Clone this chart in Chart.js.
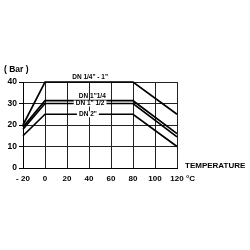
<!DOCTYPE html>
<html>
<head>
<meta charset="UTF-8">
<script src="https://cdn.jsdelivr.net/npm/chart.js"></script>
<style>
  html, body { margin: 0; padding: 0; background: #fff; }
  #wrap { width: 250px; height: 250px; }
</style>
</head>
<body>
<div id="wrap"><canvas id="chart" width="250" height="250"></canvas></div>
<script>
// temperature points (°C)
const temps = [-20, 0, 80, 120];
// pressure (bar) for each size
const dnQuarterToOne = [20, 40, 40, 25];
const dnOneQuarter = [19, 31.3, 31.3, 16];
const dnOneHalf = [18, 30, 30, 14.5];
const dnTwo = [15, 25, 25, 10];

const seriesNames = ['DN 1/4" - 1"', 'DN 1"1/4', 'DN 1" 1/2', 'DN 2"'];
const seriesValues = [dnQuarterToOne, dnOneQuarter, dnOneHalf, dnTwo];
// where the size label sits (x in °C, y in bar) and whether it blanks the line
const labelX = [41, 43, 41, 39];
const labelY = [42.3, 33.5, 30, 25];
const labelBox = [false, false, true, true];

const yTickLabels = [0, 10, 15, 20, 25, 30, 40];
const xTickLabels = {'-20': '- 20'};

const FONT = '"Liberation Sans", Arial, sans-serif';

const datasets = seriesValues.map((vals, i) => ({
    label: seriesNames[i],
    data: temps.map((t, j) => ({ x: t, y: vals[j] })),
    borderColor: '#000',
    borderWidth: 1.7,
    pointRadius: 0,
    fill: false,
    tension: 0,
    clip: false
}));

const textPlugin = {
    id: 'texts',
    afterDatasetsDraw(chart) {
        const ctx = chart.ctx;
        const xs = chart.scales.x, ys = chart.scales.y;
        const area = chart.chartArea;
        ctx.save();
        ctx.fillStyle = '#000';
        // line labels
        ctx.font = 'bold 6.5px ' + FONT;
        ctx.textAlign = 'center';
        ctx.textBaseline = 'middle';
        seriesNames.forEach((name, i) => {
            const px = xs.getPixelForValue(labelX[i]);
            const py = ys.getPixelForValue(labelY[i]);
            if (labelBox[i]) {
                const w = ctx.measureText(name).width + 4;
                ctx.fillStyle = '#fff';
                ctx.fillRect(px - w / 2, py - 3, w, 6);
                ctx.fillStyle = '#000';
            }
            ctx.fillText(name, px, py);
        });
        // axis captions
        ctx.font = 'bold 8.5px ' + FONT;
        ctx.textAlign = 'left';
        ctx.fillText('( Bar )', 4, area.top - 12);
        ctx.font = 'bold 8px ' + FONT;
        ctx.fillText('TEMPERATURE', area.right + 8, area.bottom - 2);
        ctx.fillText('°C', area.right + 9, area.bottom + 11);
        ctx.restore();
    }
};

new Chart(document.getElementById('chart'), {
    type: 'line',
    data: { datasets: datasets },
    options: {
        responsive: false,
        animation: false,
        layout: { padding: { top: 82, right: 73, bottom: 67, left: 0 } },
        plugins: {
            legend: { display: false },
            tooltip: { enabled: false }
        },
        scales: {
            x: {
                type: 'linear',
                min: -20,
                max: 120,
                afterFit: s => { s.height = 15; },
                border: { color: '#000', width: 1 },
                grid: { color: '#222', lineWidth: 1, drawTicks: false },
                ticks: {
                    stepSize: 20,
                    padding: 6,
                    color: '#000',
                    font: { family: FONT, size: 8, weight: 'bold' },
                    callback: v => xTickLabels[v] || String(v)
                }
            },
            y: {
                min: 0,
                max: 40,
                afterFit: s => { s.width = 23; },
                border: { color: '#000', width: 1 },
                grid: { color: '#222', lineWidth: 1, tickLength: 4, tickColor: '#000' },
                ticks: {
                    stepSize: 5,
                    padding: 2,
                    color: '#000',
                    font: { family: FONT, size: 8.5, weight: 'bold' },
                    callback: v => yTickLabels.includes(v) ? String(v) : ''
                }
            }
        }
    },
    plugins: [textPlugin]
});
</script>
</body>
</html>
